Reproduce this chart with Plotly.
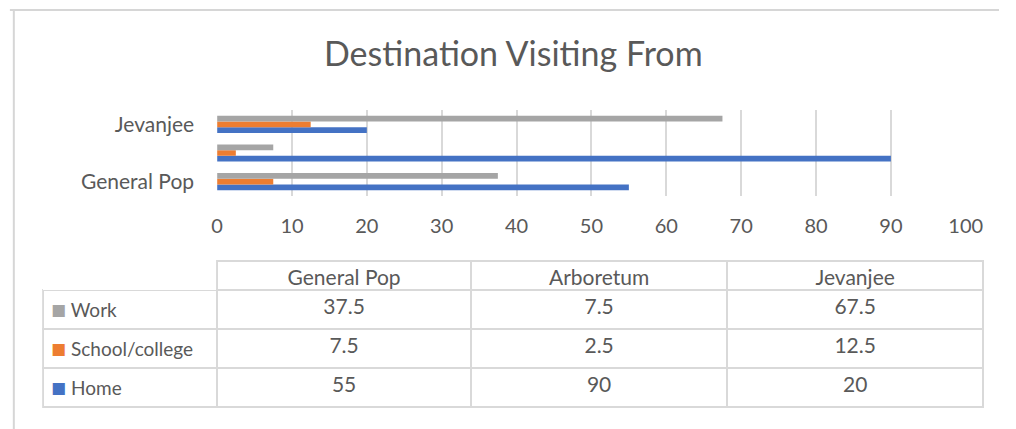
import plotly.graph_objects as go

W, H = 1016, 429

categories = ["General Pop", "Arboretum", "Jevanjee"]
series_names = ["Home", "School/college", "Work"]
home = [55, 90, 20]
school = [7.5, 2.5, 12.5]
work = [37.5, 7.5, 67.5]
colors = ["#4472C4", "#ED7D31", "#A5A5A5"]
x_ticks = [0, 10, 20, 30, 40, 50, 60, 70, 80, 90, 100]
shown_y_ticks = ["General Pop", "Jevanjee"]

TXT = "#595959"
GRID = "#d9d9d9"
FONT = "Lato"

def px_x(p):
    return p / W

def px_y(p):
    return 1 - p / H

fig = go.Figure()
for name, vals, col in zip(series_names, [home, school, work], colors):
    fig.add_trace(go.Bar(
        y=categories, x=vals, name=name, orientation="h",
        marker=dict(color=col, line=dict(width=0)),
        xaxis="x", yaxis="y",
    ))

row_series = list(reversed(series_names))
row_colors = list(reversed(colors))
row_vals = list(reversed([home, school, work]))

def fmt(v):
    return str(int(v)) if float(v).is_integer() else str(v)

label_cells = [
    f"<span style='color:{c};font-family:Noto Sans CJK SC;font-size:15px'>■</span> {n}<br>"
    for n, c in zip(row_series, row_colors)
]
value_cols = [[fmt(v[i]) for v in row_vals] for i in range(len(categories))]

fig.add_trace(go.Table(
    domain=dict(x=[px_x(38), px_x(1000)], y=[0, px_y(261)]),
    columnwidth=[178, 260, 262, 262],
    header=dict(
        values=[""] + categories,
        height=29,
        align="center",
        fill=dict(color="white"),
        line=dict(color=["rgba(0,0,0,0)", GRID, GRID, GRID], width=2),
        font=dict(family=FONT, size=21, color=TXT),
    ),
    cells=dict(
        values=[label_cells] + value_cols,
        height=38,
        align=["left", "center", "center", "center"],
        fill=dict(color="white"),
        line=dict(color=GRID, width=2),
        font=dict(family=FONT, size=[19, 21, 21, 21], color=TXT),
    ),
))

fig.update_layout(
    width=W, height=H, autosize=False,
    margin=dict(l=0, r=0, t=0, b=0, pad=0),
    paper_bgcolor="white", plot_bgcolor="white",
    showlegend=False,
    barmode="group", bargap=0.4, bargroupgap=0,
    font=dict(family=FONT, color=TXT),
    xaxis=dict(
        domain=[px_x(216), px_x(982)],
        range=[0, 100], tickvals=x_ticks,
        showgrid=True, gridcolor=GRID, gridwidth=2,
        zeroline=False, showline=False,
        tickfont=dict(family=FONT, size=20, color=TXT),
        ticks="", ticklabelstandoff=16,
        fixedrange=True,
    ),
    yaxis=dict(
        domain=[px_y(196), px_y(110)],
        type="category", categoryorder="array", categoryarray=categories,
        tickvals=shown_y_ticks,
        showgrid=False, zeroline=False, showline=False,
        tickfont=dict(family=FONT, size=21, color=TXT),
        ticks="", ticklabelstandoff=22,
        fixedrange=True,
    ),
    annotations=[dict(
        text="Destination Visiting From", xref="paper", yref="paper",
        x=px_x(519), y=px_y(52), xanchor="center", yanchor="middle",
        showarrow=False, font=dict(family=FONT, size=34, color=TXT),
    )],
    shapes=[
        dict(type="line", xref="paper", yref="paper",
             x0=px_x(4), x1=1, y0=px_y(10), y1=px_y(10),
             line=dict(color="#d6d6d6", width=2), layer="below"),
        dict(type="line", xref="paper", yref="paper",
             x0=px_x(8), x1=px_x(8), y0=0, y1=px_y(10),
             line=dict(color="#d6d6d6", width=2), layer="below"),
    ],
)

fig.write_html("out.html", config={"responsive": False})
